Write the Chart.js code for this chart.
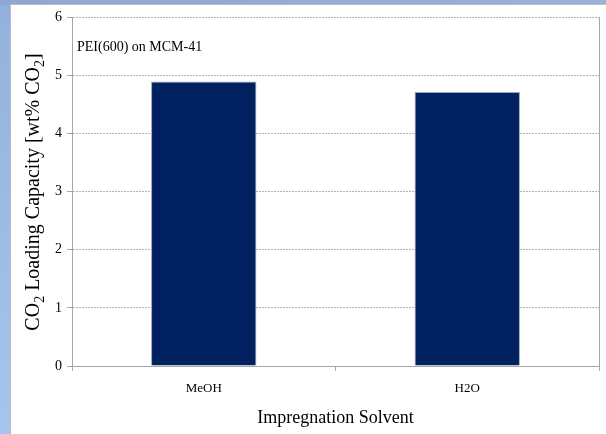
<!DOCTYPE html>
<html>
<head>
<meta charset="utf-8">
<script src="https://cdn.jsdelivr.net/npm/chart.js@4.4.1/dist/chart.umd.min.js"></script>
<style>
  html, body { margin: 0; padding: 0; background: #ffffff; }
  #wrap { position: relative; width: 606px; height: 434px; }
</style>
</head>
<body>
<div id="wrap"><canvas id="c" width="606" height="434"></canvas></div>
<script>
// Impregnation solvents and measured CO2 loading (wt% CO2)
const solvents = ['MeOH', 'H2O'];
const loading = [4.89, 4.71];
const yTicks = [0, 1, 2, 3, 4, 5, 6];
const sampleLabel = 'PEI(600) on MCM-41';
const xTitle = 'Impregnation Solvent';

const SERIF = '"Liberation Serif", "Times New Roman", serif';

// Frame around the slide area, plot border and rich-text labels
const framePlugin = {
  id: 'frame',
  beforeDraw(chart) {
    const ctx = chart.ctx;
    const W = chart.width, H = chart.height;
    ctx.save();
    // left band
    const lg = ctx.createLinearGradient(0, 0, 0, H);
    lg.addColorStop(0, '#94b0dc');
    lg.addColorStop(1, '#a6c5ec');
    ctx.fillStyle = lg;
    ctx.fillRect(0, 0, W, H);
    // top band
    const tg = ctx.createLinearGradient(0, 0, W, 0);
    tg.addColorStop(0, '#8ea8d3');
    tg.addColorStop(1, '#9ab1d8');
    ctx.fillStyle = tg;
    ctx.fillRect(0, 0, W, 5);
    // white page
    ctx.fillStyle = '#ffffff';
    ctx.fillRect(11, 5, W - 11, H - 5);
    // soft edges
    ctx.fillStyle = '#b9bec6';
    ctx.fillRect(10, 4, W - 10, 1);
    ctx.fillRect(10, 4, 1, H - 4);
    ctx.restore();
  },
  afterDraw(chart) {
    const ctx = chart.ctx;
    const a = chart.chartArea;
    ctx.save();
    // right border of the plot area
    ctx.strokeStyle = '#a6a6a6';
    ctx.lineWidth = 1;
    ctx.beginPath();
    ctx.moveTo(Math.round(a.right) + 0.5, a.top);
    ctx.lineTo(Math.round(a.right) + 0.5, a.bottom);
    ctx.stroke();

    // sample label inside the plot
    ctx.fillStyle = '#000000';
    ctx.font = '14px ' + SERIF;
    ctx.textBaseline = 'middle';
    ctx.textAlign = 'left';
    ctx.fillText(sampleLabel, 77, 47);

    // y-axis title with subscripts
    const parts = [
      { t: 'CO', sub: false },
      { t: '2', sub: true },
      { t: ' Loading Capacity [wt% CO', sub: false },
      { t: '2', sub: true },
      { t: ']', sub: false }
    ];
    const big = '20px ' + SERIF, small = '14px ' + SERIF;
    let total = 0;
    parts.forEach(p => { ctx.font = p.sub ? small : big; p.w = ctx.measureText(p.t).width; total += p.w; });
    ctx.translate(34, 192);
    ctx.rotate(-Math.PI / 2);
    let x = -total / 2;
    parts.forEach(p => {
      ctx.font = p.sub ? small : big;
      ctx.fillText(p.t, x, p.sub ? 6 : 0);
      x += p.w;
    });
    ctx.restore();
  }
};

new Chart(document.getElementById('c'), {
  type: 'bar',
  data: {
    labels: solvents,
    datasets: [{
      data: loading,
      backgroundColor: '#002060',
      borderColor: '#9aa5ba',
      borderWidth: 1,
      borderSkipped: 'bottom',
      barPercentage: 0.4,
      categoryPercentage: 1.0
    }]
  },
  options: {
    responsive: false,
    animation: false,
    layout: { padding: { top: 17, right: 7, left: 0, bottom: 0 } },
    plugins: { legend: { display: false }, tooltip: { enabled: false } },
    scales: {
      x: {
        offset: true,
        grid: {
          offset: true,
          drawOnChartArea: false,
          color: '#a6a6a6',
          tickLength: 5,
          tickBorderDash: []
        },
        border: { color: '#a6a6a6', width: 1 },
        ticks: {
          color: '#000000',
          font: { family: SERIF, size: 13 },
          padding: 10
        },
        title: {
          display: true,
          text: xTitle,
          color: '#000000',
          font: { family: SERIF, size: 18 },
          padding: { top: 4, bottom: 5 }
        },
        afterFit(scale) { scale.height = 68; }
      },
      y: {
        min: 0,
        max: 6,
        afterBuildTicks(scale) { scale.ticks = yTicks.map(v => ({ value: v })); },
        grid: {
          color: '#b3b3b3',
          tickLength: 5,
          tickColor: '#a6a6a6',
          tickBorderDash: []
        },
        border: { color: '#a6a6a6', width: 1, dash: [2, 1] },
        ticks: {
          color: '#000000',
          font: { family: SERIF, size: 14 },
          padding: 5
        },
        afterFit(scale) { scale.width = 72; }
      }
    }
  },
  plugins: [framePlugin]
});
</script>
</body>
</html>
